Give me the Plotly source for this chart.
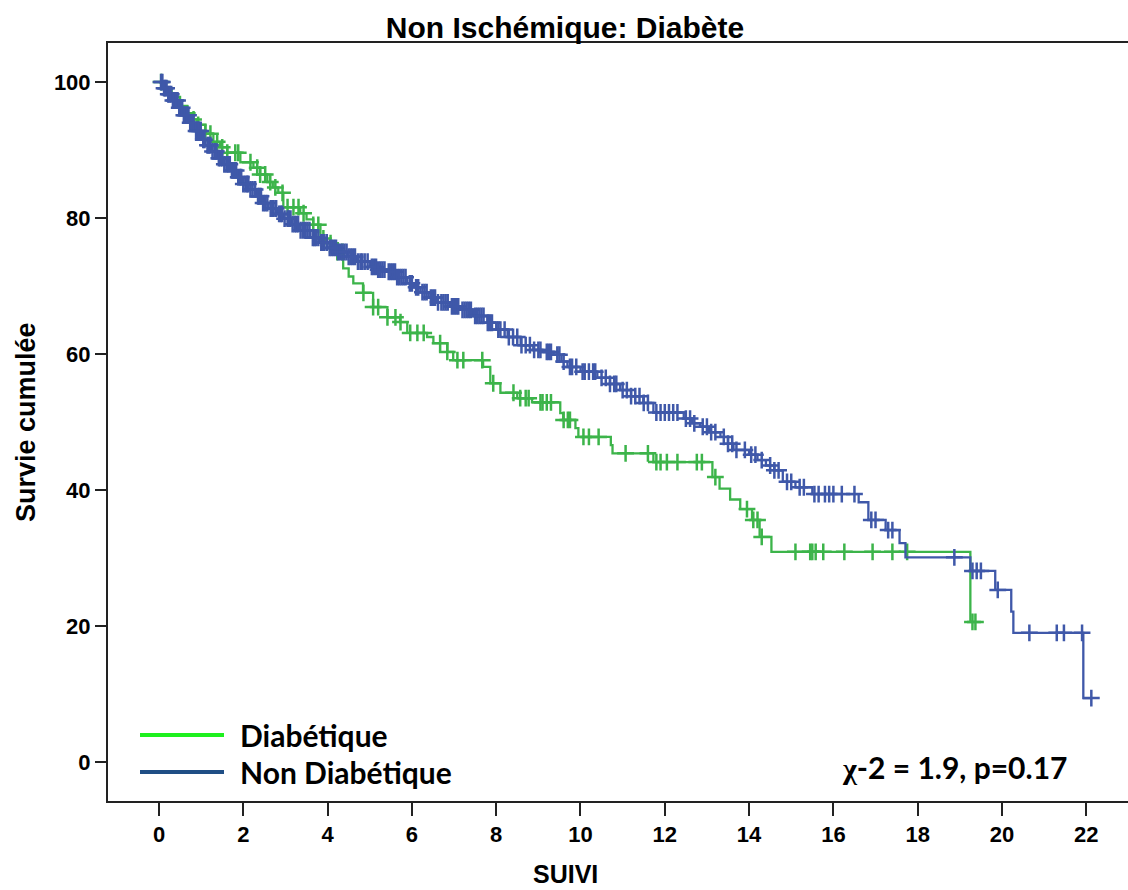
import plotly.graph_objects as go
import bisect

# ---------------- data ----------------
# Non Diabétique: Kaplan-Meier step points (time, cumulative survival %)
nd_time = [0, 0.1, 0.2, 0.3, 0.45, 0.58, 0.72, 0.85, 1.0, 1.1, 1.25, 1.38, 1.55, 1.7,
           1.85, 2.0, 2.17, 2.3, 2.45, 2.6, 2.8, 2.95, 3.15, 3.35, 3.59, 3.8, 4.0, 4.23,
           4.47, 4.7, 5.01, 5.2, 5.42, 5.65, 5.89, 6.05, 6.2, 6.4, 6.6, 6.9, 7.15, 7.45,
           7.79, 8.0, 8.27, 8.58, 8.88, 9.1, 9.36, 9.55, 9.69, 10.0, 10.4, 10.7, 10.94,
           11.2, 11.49, 11.73, 12.45, 12.65, 12.84, 13.05, 13.32, 13.5, 13.63, 14.0, 14.2,
           14.4, 14.6, 14.8, 15.1, 15.5, 16.6, 16.83, 17.24, 17.57, 17.71, 19.25, 19.84,
           20.22, 20.27, 21.93, 22.14]
nd_surv = [100, 99.1, 98.2, 97.3, 96.2, 95.1, 94.0, 92.8, 91.5, 90.7, 89.8, 88.8, 87.9, 87.0,
           86.0, 85.0, 84.2, 83.2, 82.2, 81.4, 80.6, 79.9, 79.1, 78.2, 77.1, 76.4, 75.6, 75.0,
           74.3, 73.6, 72.8, 72.4, 72.1, 71.3, 70.4, 69.8, 69.1, 68.3, 67.6, 67.0, 66.5, 65.6,
           64.6, 63.6, 62.5, 61.3, 60.6, 60.3, 59.9, 58.9, 58.1, 57.4, 56.5, 55.6, 54.7,
           53.8, 52.8, 51.4, 50.5, 49.8, 49.3, 48.5, 47.8, 46.8, 45.9, 45.2, 44.4,
           43.6, 42.9, 41.2, 40.4, 39.4, 38.2, 35.6, 34.1, 32.2, 30.1, 28.1, 25.3,
           22.1, 19.0, 9.4, 9.4]
nd_censored = [0.05, 0.08, 0.12, 0.15, 0.18, 0.22, 0.25, 0.29, 0.33, 0.36, 0.4, 0.44, 0.48,
               0.51, 0.55, 0.59, 0.62, 0.66, 0.7, 0.74, 0.78, 0.82, 0.88, 0.91, 0.95, 0.99,
               1.05, 1.08, 1.15, 1.18, 1.22, 1.27, 1.32, 1.36, 1.42, 1.46, 1.5, 1.55, 1.6,
               1.64, 1.68, 1.73, 1.78, 1.83, 1.88, 1.92, 1.95, 2.0, 2.05, 2.09, 2.12, 2.17,
               2.22, 2.28, 2.35, 2.38, 2.42, 2.47, 2.52, 2.57, 2.65, 2.69, 2.72, 2.78, 2.85,
               2.89, 2.92, 2.98, 3.05, 3.08, 3.12, 3.17, 3.22, 3.26, 3.3, 3.36, 3.42, 3.47,
               3.52, 3.57, 3.65, 3.69, 3.72, 3.78, 3.85, 3.88, 3.92, 3.98, 4.05, 4.1, 4.15,
               4.2, 4.25, 4.3, 4.35, 4.4, 4.45, 4.5, 4.55, 4.6, 4.65, 4.72, 4.78, 4.82, 4.88,
               4.95, 5.05, 5.1, 5.15, 5.2, 5.25, 5.3, 5.35, 5.45, 5.5, 5.55, 5.6, 5.65, 5.7,
               5.75, 5.8, 5.85, 5.95, 6.0, 6.1, 6.15, 6.25, 6.3, 6.35, 6.45, 6.5, 6.55, 6.62,
               6.7, 6.75, 6.8, 6.85, 6.95, 7.0, 7.05, 7.1, 7.2, 7.25, 7.3, 7.35, 7.4, 7.5,
               7.55, 7.6, 7.65, 7.7, 7.8, 7.85, 7.9, 8.05, 8.1, 8.2, 8.3, 8.4, 8.5, 8.6, 8.7,
               8.8, 8.9, 9.0, 9.05, 9.2, 9.25, 9.3, 9.45, 9.5, 9.6, 9.75, 9.8, 9.9, 10.05,
               10.1, 10.2, 10.3, 10.35, 10.5, 10.6, 10.7, 10.8, 10.85, 11.0, 11.1, 11.2, 11.3,
               11.4, 11.5, 11.6, 11.8, 11.9, 12.0, 12.1, 12.2, 12.3, 12.5, 12.6, 12.7, 12.9,
               13.0, 13.1, 13.2, 13.4, 13.5, 13.6, 13.7, 13.9, 14.05, 14.15, 14.3, 14.5, 14.6,
               14.7, 14.9, 15.0, 15.2, 15.3, 15.55, 15.65, 15.8, 15.9, 16.0, 16.2, 16.5, 16.9,
               17.0, 17.3, 17.4, 18.87, 19.3, 19.4, 19.5, 19.9, 20.65, 21.3, 21.47, 21.9,
               22.12]

# Diabétique
d_time = [0, 0.15, 0.3, 0.5, 0.67, 0.8, 0.91, 1.1, 1.29, 1.45, 1.62, 1.93, 2.24, 2.4,
          2.57, 2.7, 2.83, 2.95, 3.35, 3.5, 3.66, 3.83, 3.95, 4.23, 4.37, 4.5, 4.61, 4.84,
          5.08, 5.42, 5.72, 5.89, 6.36, 6.51, 6.84, 6.98, 7.69, 7.86, 8.1, 8.5, 8.85, 9.52,
          9.59, 9.88, 9.95, 10.72, 10.76, 11.73, 13.13, 13.3, 13.55, 13.79, 14.07, 14.25,
          14.53, 19.25, 19.37]
d_surv = [100, 98.9, 97.8, 96.5, 95.4, 94.5, 93.7, 92.4, 91.2, 90.4, 89.6, 88.2, 87.4, 86.4,
          85.3, 84.5, 83.7, 81.6, 80.7, 79.8, 79.0, 77.0, 76.3, 75.0, 72.6, 71.4, 70.4, 69.0,
          66.9, 65.4, 64.7, 63.1, 62.5, 61.6, 60.3, 59.1, 58.1, 55.7, 54.3, 53.5, 52.9, 51.3,
          50.3, 49.1, 47.8, 46.6, 45.4, 44.1, 41.9, 40.2, 38.6, 37.2, 35.6, 33.1,
          30.9, 20.6, 20.6]
d_censored = [0.05, 0.67, 0.82, 0.93, 1.1, 1.22, 1.38, 1.5, 1.62, 1.81, 1.88, 2.17, 2.33,
              2.4, 2.52, 2.64, 2.76, 2.93, 3.05, 3.19, 3.31, 3.43, 3.66, 3.78, 3.9, 4.07,
              4.23, 4.35, 4.85, 5.08, 5.2, 5.42, 5.61, 5.73, 5.96, 6.13, 6.28, 6.67, 6.84,
              7.08, 7.22, 7.67, 7.93, 8.41, 8.57, 8.7, 8.77, 9.05, 9.1, 9.2, 9.3, 9.6, 9.7,
              9.75, 10.07, 10.2, 10.43, 11.07, 11.6, 11.8, 11.9, 12.05, 12.3, 12.76, 12.88,
              13.2, 13.95, 14.1, 14.2, 14.3, 15.1, 15.45, 15.5, 15.58, 15.76, 16.26, 16.93,
              17.4, 17.75, 19.3, 19.37]

x_ticks = list(range(0, 23, 2))
y_ticks = [0, 20, 40, 60, 80, 100]

title_text = "Non Ischémique: Diabète"
x_title = "SUIVI"
y_title = "Survie cumulée"
legend_labels = ["Diabétique", "Non Diabétique"]
stat_text = "χ-2 = 1.9, p=0.17"

GREEN = "#3cb44a"
BLUE = "#3f58a9"
LEG_GREEN = "#1ef01e"
LEG_BLUE = "#1f4e85"


def km_lookup(times, surv, t):
    i = bisect.bisect_right(times, t) - 1
    return surv[max(i, 0)]


fig = go.Figure()

for times, surv, cens, col, name in [
    (d_time, d_surv, d_censored, GREEN, legend_labels[0]),
    (nd_time, nd_surv, nd_censored, BLUE, legend_labels[1]),
]:
    fig.add_trace(go.Scatter(
        x=times, y=surv, mode="lines", line=dict(color=col, width=2.3, shape="hv"),
        name=name, showlegend=False, hoverinfo="skip"))
    fig.add_trace(go.Scatter(
        x=cens, y=[km_lookup(times, surv, t) for t in cens], mode="markers",
        marker=dict(symbol="cross-thin", size=12, line=dict(color=col, width=2.5)),
        name=name, showlegend=False, hoverinfo="skip"))

bold = dict(family="Liberation Sans, Arial, sans-serif", color="black", weight="bold")

fig.update_layout(
    width=1128, height=890,
    paper_bgcolor="white", plot_bgcolor="white",
    margin=dict(l=108, r=0, t=43, b=89),
    title=dict(text=title_text, x=565 / 1128, xanchor="center",
               y=1 - 27 / 890, yanchor="middle", yref="container",
               font=dict(size=30, **bold)),
    showlegend=False,
)

fig.update_xaxes(
    range=[-1.21, 22.99], tickvals=x_ticks, ticktext=[str(v) for v in x_ticks],
    ticks="outside", ticklen=13, tickwidth=2, tickcolor="#222",
    showline=True, linecolor="#222", linewidth=2, mirror=True,
    showgrid=False, zeroline=False,
    tickfont=dict(size=22, **bold),
)
fig.update_yaxes(
    range=[-5.74, 105.74], tickvals=y_ticks, ticktext=[str(v) for v in y_ticks],
    ticks="outside", ticklen=11, tickwidth=2, tickcolor="#222",
    showline=True, linecolor="#222", linewidth=2, mirror=False,
    showgrid=False, zeroline=False,
    tickfont=dict(size=22, **bold),
)

# axis titles
fig.add_annotation(text=x_title, xref="paper", yref="paper", x=(565 - 108) / 1020,
                   y=(801 - 874) / 758, showarrow=False, xanchor="center", yanchor="middle",
                   font=dict(size=25, **bold))
fig.add_annotation(text=y_title, xref="paper", yref="paper", x=(26 - 108) / 1020,
                   y=(801 - 422) / 758, showarrow=False, xanchor="center", yanchor="middle",
                   textangle=-90, font=dict(size=27, **bold))

# legend (drawn manually)
leg_font = dict(family="Lato, Open Sans, sans-serif", color="black", weight="bold", size=30)
for yy, col, lab in [(735, LEG_GREEN, legend_labels[0]), (772, LEG_BLUE, legend_labels[1])]:
    fig.add_shape(type="line", xref="paper", yref="paper",
                  x0=(140 - 108) / 1020, x1=(224 - 108) / 1020,
                  y0=(801 - yy) / 758, y1=(801 - yy) / 758,
                  line=dict(color=col, width=4))
    fig.add_annotation(text=lab, xref="paper", yref="paper", x=(238 - 108) / 1020,
                       y=(801 - yy) / 758, showarrow=False, xanchor="left",
                       yanchor="middle", font=leg_font)

fig.add_annotation(
    text="<span style='font-family:Liberation Serif'>χ</span>" + stat_text[1:],
    xref="paper", yref="paper", x=(840 - 108) / 1020, y=(801 - 767) / 758,
    showarrow=False, xanchor="left", yanchor="middle", font=leg_font)

fig.write_html("out.html")
